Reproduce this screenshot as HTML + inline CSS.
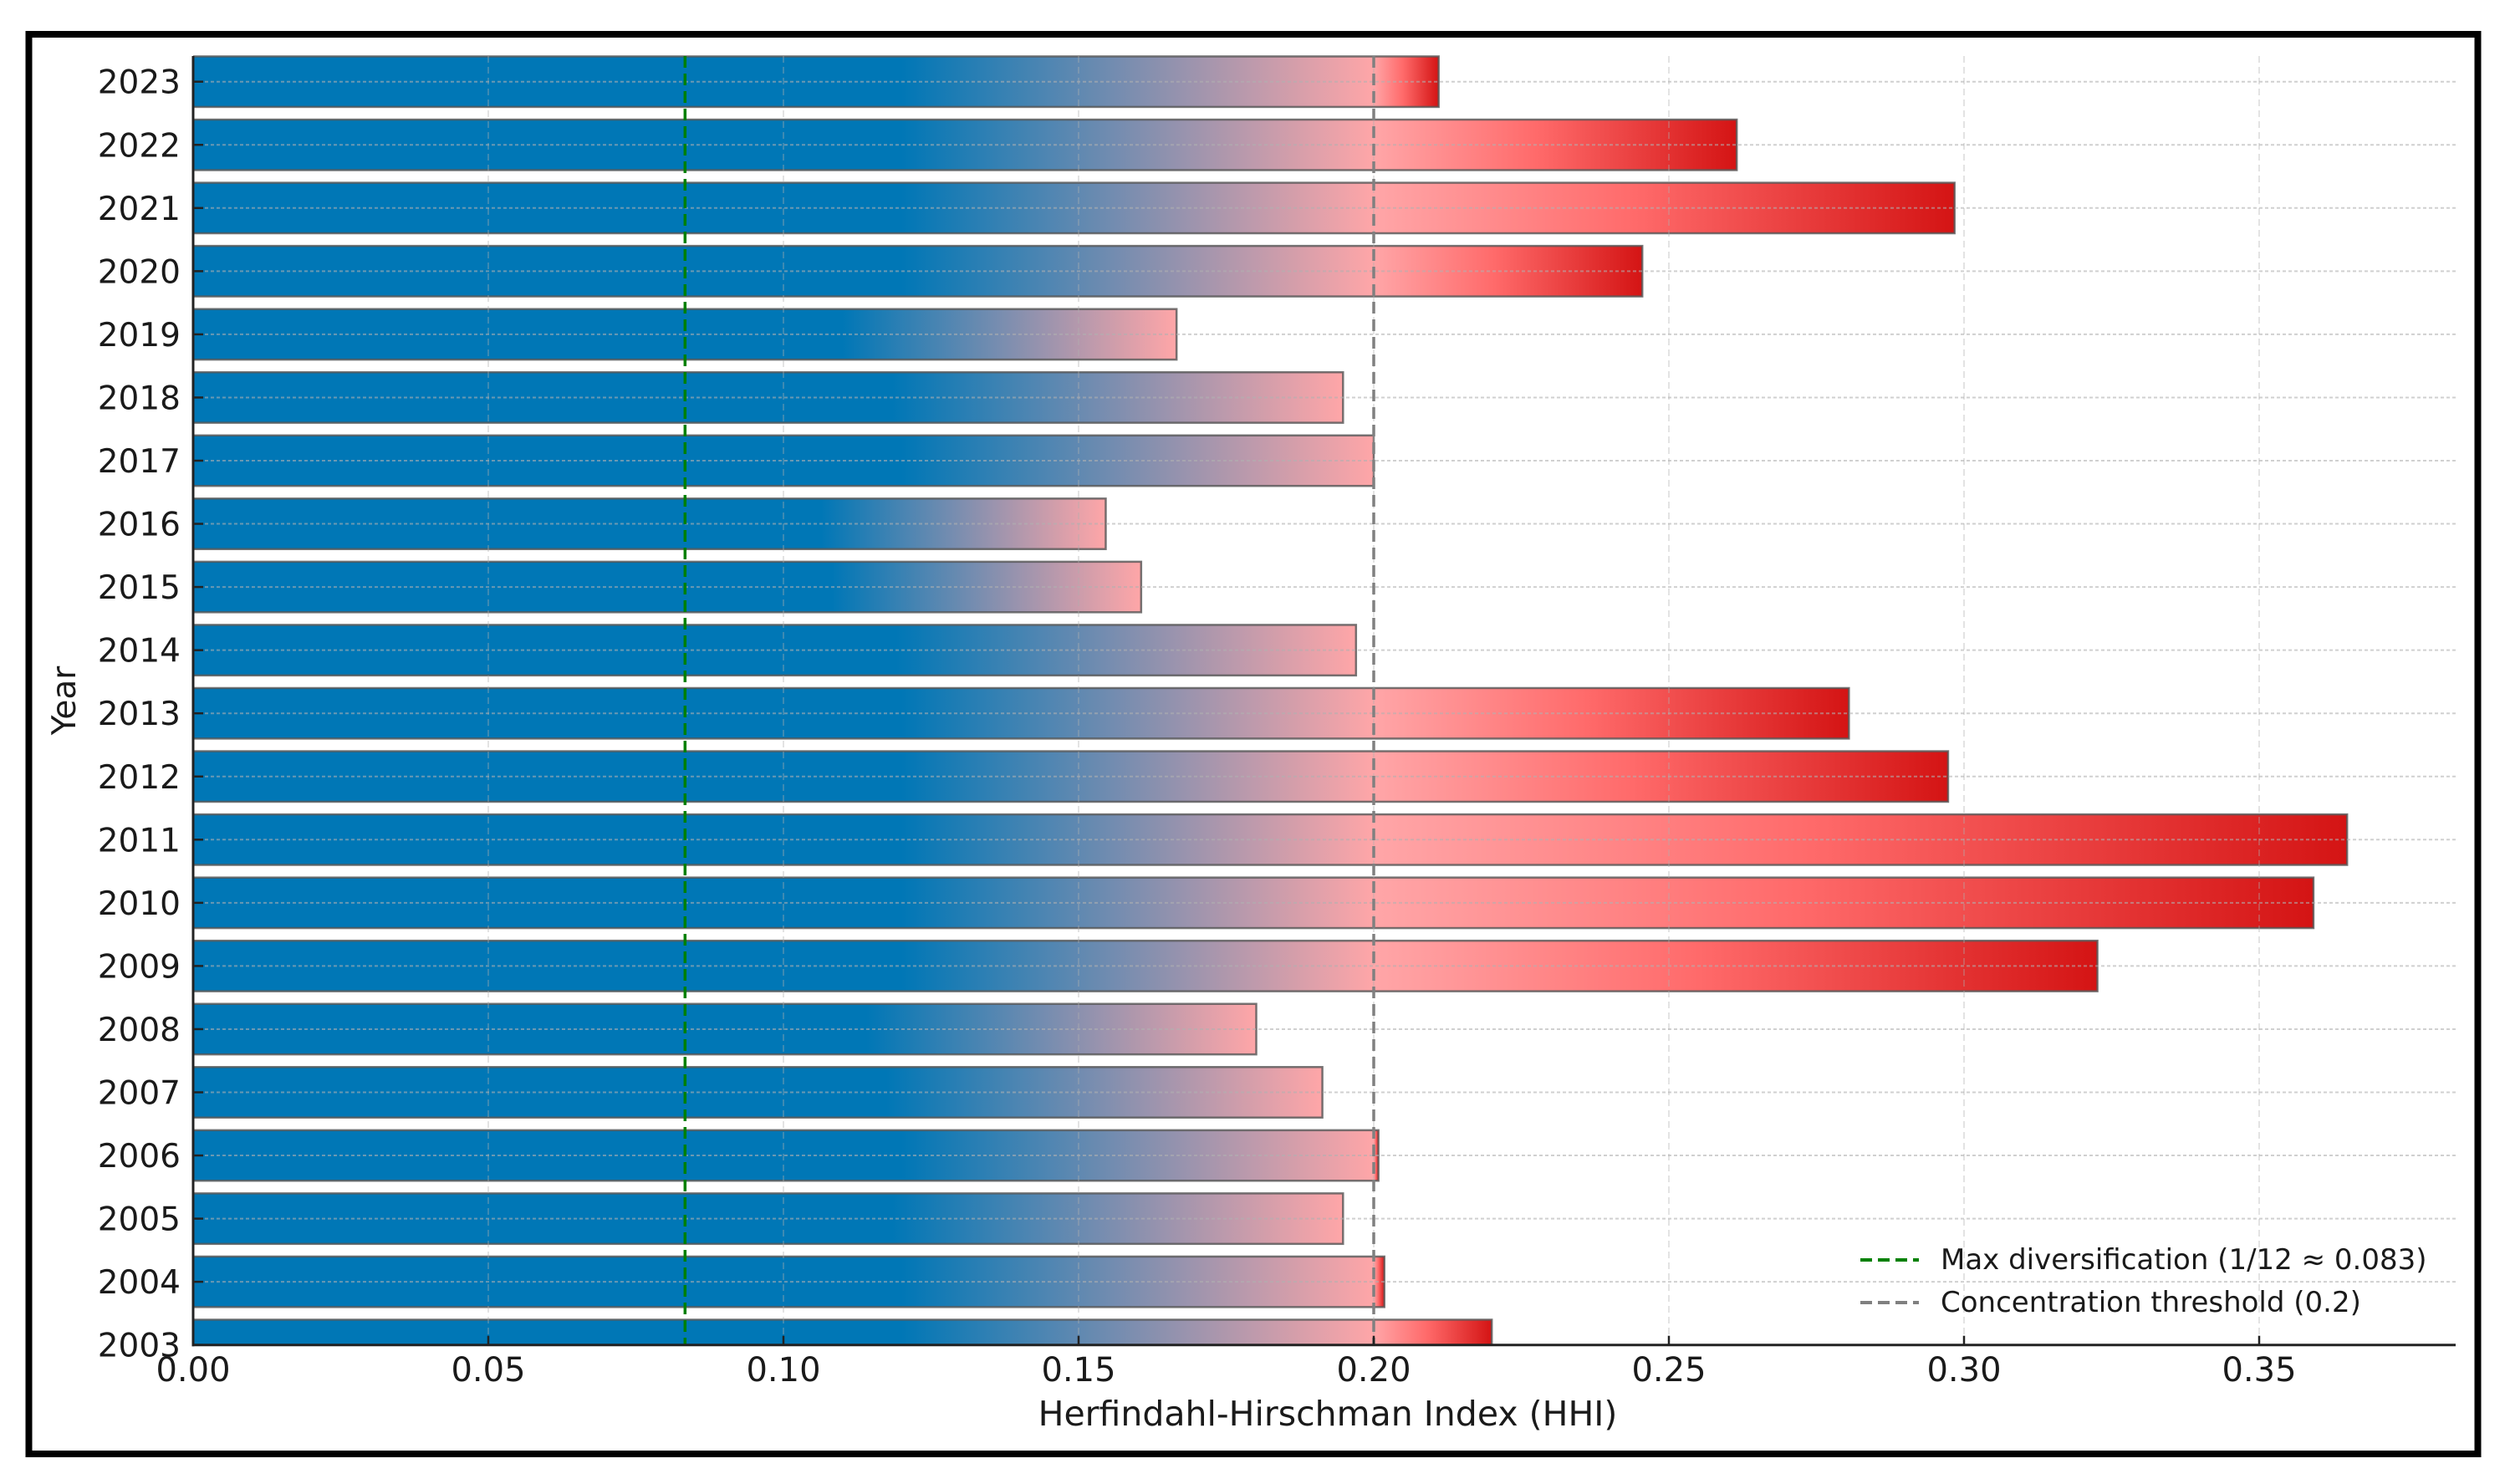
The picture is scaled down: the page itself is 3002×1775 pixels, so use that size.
<!DOCTYPE html>
<html><head><meta charset="utf-8"><style>
html,body{margin:0;padding:0;background:#fff;}
svg{display:block;}
text{font-family:"DejaVu Sans","Liberation Sans",sans-serif;fill:#1a1a1a;}
</style></head><body>
<svg id="chart" width="3002" height="1775" viewBox="0 0 3002 1775" xmlns="http://www.w3.org/2000/svg">
<defs id="defs"></defs>
<rect x="34.5" y="41" width="2929" height="1698" fill="#fff" stroke="#000" stroke-width="8"/>
<g id="bars"></g>
<g id="grid"></g>
<g id="refs"></g>
<g id="axes"></g>
<text x="1588" y="1705" font-size="41" text-anchor="middle">Herfindahl-Hirschman Index (HHI)</text>
<text x="0" y="0" font-size="39" text-anchor="middle" transform="translate(90,838) rotate(-90)">Year</text>
<g>
  <line x1="2225" y1="1507" x2="2295" y2="1507" stroke="#008000" stroke-width="4" stroke-dasharray="14,7"/>
  <text x="2321" y="1518" font-size="34">Max diversification (1/12 ≈ 0.083)</text>
  <line x1="2225" y1="1558" x2="2295" y2="1558" stroke="#808080" stroke-width="4" stroke-dasharray="14,7"/>
  <text x="2321" y="1569" font-size="34">Concentration threshold (0.2)</text>
</g>
</svg>
<script>
const years = [2003,2004,2005,2006,2007,2008,2009,2010,2011,2012,2013,2014,2015,2016,2017,2018,2019,2020,2021,2022,2023];
const hhiValues = [0.220,0.2018,0.1948,0.2008,0.1913,0.1801,0.3226,0.3592,0.3649,0.2973,0.2805,0.197,0.1606,0.1546,0.2000,0.1948,0.1666,0.2455,0.2984,0.2615,0.211];
const xTicks = [0,0.05,0.10,0.15,0.20,0.25,0.30,0.35];
const xTickLabels = ["0.00","0.05","0.10","0.15","0.20","0.25","0.30","0.35"];
const maxDiversification = 1/12;
const threshold = 0.2;

const NS="http://www.w3.org/2000/svg";
const X0=231, XK=7060, PLOT_R=2937, PLOT_T=67, AXIS_Y=1608.7, STEP=75.55;
const xs=v=>X0+v*XK;
const ys=y=>AXIS_Y-(y-2003)*STEP;
function mk(tag,attrs,parent){const e=document.createElementNS(NS,tag);for(const k in attrs)e.setAttribute(k,attrs[k]);parent.appendChild(e);return e;}
const defs=document.getElementById('defs');
const bars=document.getElementById('bars');
const grid=document.getElementById('grid');
const refs=document.getElementById('refs');
const axes=document.getElementById('axes');

const cp=mk('clipPath',{id:'plotclip'},defs);
mk('rect',{x:X0,y:PLOT_T-2,width:PLOT_R-X0,height:AXIS_Y-PLOT_T+2},cp);
bars.setAttribute('clip-path','url(#plotclip)');

const bh=0.8*STEP;
years.forEach((yr,i)=>{
  const v=hhiValues[i];
  const w=xs(v)-X0;
  const s=Math.min(v,threshold);
  const gid='g'+i;
  const g=mk('linearGradient',{id:gid,x1:0,y1:0,x2:1,y2:0},defs);
  const blueEnd=(s*0.3+0.06)/v;
  const pinkAt=s/v;
  mk('stop',{offset:0,'stop-color':'#0077b6'},g);
  mk('stop',{offset:blueEnd,'stop-color':'#0077b6'},g);
  mk('stop',{offset:pinkAt,'stop-color':'#ffa6a8'},g);
  if(v>threshold){
    mk('stop',{offset:pinkAt+(1-pinkAt)*0.45,'stop-color':'#ff6a6a'},g);
    mk('stop',{offset:1,'stop-color':'#d41414'},g);
  }
  const r=mk('rect',{x:X0,y:ys(yr)-bh/2,width:w,height:bh,fill:'url(#'+gid+')',stroke:'#555','stroke-opacity':0.8,'stroke-width':2.5},bars);
  
  
});

xTicks.forEach((t,i)=>{
  if(i===0)return;
  const l=mk('line',{x1:xs(t),x2:xs(t),y1:PLOT_T,y2:AXIS_Y,stroke:'#b0b0b0','stroke-opacity':0.35,'stroke-width':2,'stroke-dasharray':'8,5'},grid);
  
  
});
years.forEach(yr=>{
  const l=mk('line',{x1:X0,x2:PLOT_R,y1:ys(yr),y2:ys(yr),stroke:'#b0b0b0','stroke-opacity':0.6,'stroke-width':2,'stroke-dasharray':'4,3'},grid);
  
  
});

const gl=mk('line',{x1:xs(maxDiversification),x2:xs(maxDiversification),y1:PLOT_T,y2:AXIS_Y,stroke:'#008000','stroke-width':3.5,'stroke-dasharray':'14,7'},refs);


const tl=mk('line',{x1:xs(threshold),x2:xs(threshold),y1:PLOT_T,y2:AXIS_Y,stroke:'#808080','stroke-width':3.5,'stroke-dasharray':'14,7'},refs);



const ls=mk('line',{x1:X0,x2:X0,y1:PLOT_T,y2:AXIS_Y+1.5,stroke:'#222','stroke-width':3},axes);


const bs=mk('line',{x1:X0-1.5,x2:PLOT_R,y1:AXIS_Y,y2:AXIS_Y,stroke:'#222','stroke-width':3},axes);


xTicks.forEach((t,i)=>{
  const tk=mk('line',{x1:xs(t),x2:xs(t),y1:AXIS_Y,y2:AXIS_Y-11,stroke:'#222','stroke-width':2.5},axes);
  
  
  const tx=mk('text',{x:xs(t),y:1652,'font-size':40,'text-anchor':'middle'},axes);
  tx.textContent=xTickLabels[i];
  
  
});
years.forEach(yr=>{
  const tk=mk('line',{x1:X0,x2:X0+12,y1:ys(yr),y2:ys(yr),stroke:'#222','stroke-width':2.5},axes);
  
  
  const tx=mk('text',{x:216,y:ys(yr)+14,'font-size':39,'text-anchor':'end'},axes);
  tx.textContent=String(yr);
  
  
});
</script>
</body></html>
